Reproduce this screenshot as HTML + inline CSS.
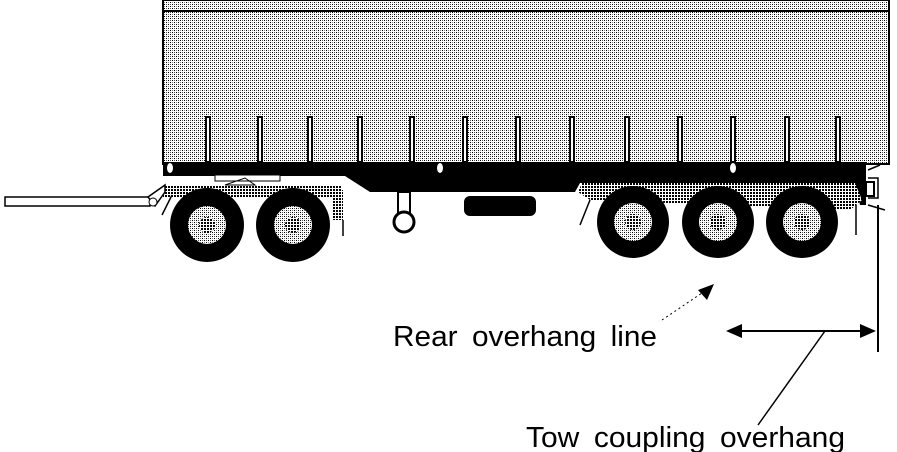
<!DOCTYPE html>
<html><head><style>body{margin:0;background:#fff}svg{display:block}</style></head><body>
<svg width="897" height="452" viewBox="0 0 897 452" xmlns="http://www.w3.org/2000/svg">
<defs>
<pattern id="dot" width="4" height="4" patternUnits="userSpaceOnUse"><rect width="4" height="4" fill="#fff"/><rect x="0" y="0" width="1" height="1" fill="#000"/><rect x="2" y="2" width="1" height="1" fill="#000"/><rect x="2" y="0" width="1" height="1" fill="#555"/><rect x="0" y="2" width="1" height="1" fill="#888"/></pattern>
<pattern id="hat" width="3" height="3" patternUnits="userSpaceOnUse"><rect width="3" height="3" fill="#fff"/><rect width="2" height="2" fill="#000"/></pattern>
</defs>
<rect x="163" y="0" width="726" height="164" fill="url(#dot)" stroke="#000" stroke-width="2"/>
<line x1="163" y1="11" x2="889" y2="11" stroke="#000" stroke-width="2"/>
<g stroke="#000" stroke-width="2" fill="#fff">
<rect x="206" y="117" width="4" height="45"/><rect x="258" y="117" width="4" height="45"/><rect x="308" y="117" width="4" height="45"/><rect x="358" y="117" width="4" height="45"/><rect x="410" y="117" width="4" height="45"/><rect x="463" y="117" width="4" height="45"/><rect x="516" y="117" width="4" height="45"/><rect x="570" y="117" width="4" height="45"/><rect x="625" y="117" width="4" height="45"/><rect x="678" y="117" width="4" height="45"/><rect x="731" y="117" width="4" height="45"/><rect x="785" y="117" width="4" height="45"/><rect x="836" y="117" width="4" height="45"/>
</g>
<polygon points="163,162 866,162 866,205 860,205 855,183 580,183 575,192 370,192 345,176 163,176" fill="#000"/>
<polygon points="582,183 855,183 862,200 850,210 590,200 578,192" fill="url(#hat)"/>
<g fill="#fff"><ellipse cx="170" cy="168" rx="3" ry="5"/><ellipse cx="440" cy="168" rx="3" ry="5"/><ellipse cx="733" cy="168" rx="3" ry="5"/></g>
<rect x="163" y="185" width="178" height="12" fill="url(#hat)"/>
<rect x="333" y="190" width="10" height="30" fill="url(#hat)"/>
<rect x="215" y="175" width="65" height="6" fill="#fff" stroke="#000"/>
<polygon points="225,185 245,178 255,185" fill="none" stroke="#000"/>
<rect x="5" y="197" width="145" height="9" fill="#fff" stroke="#000" stroke-width="1.5"/>
<polygon points="148,197 165,185 165,192 155,206" fill="#fff" stroke="#000" stroke-width="1.5"/>
<circle cx="153" cy="202" r="4" fill="#fff" stroke="#000"/>
<rect x="398" y="192" width="12" height="22" fill="#fff" stroke="#000" stroke-width="2"/>
<circle cx="404" cy="222" r="10" fill="#fff" stroke="#000" stroke-width="3"/>
<rect x="464" y="196" width="72" height="20" rx="6" fill="#000"/>
<g>
<circle cx="207" cy="225" r="37" fill="#000"/><circle cx="207" cy="225" r="19" fill="url(#dot)"/><circle cx="207" cy="225" r="8" fill="url(#hat)"/>
<circle cx="293" cy="225" r="37" fill="#000"/><circle cx="293" cy="225" r="19" fill="url(#dot)"/><circle cx="293" cy="225" r="8" fill="url(#hat)"/>
<circle cx="633" cy="222" r="36" fill="#000"/><circle cx="633" cy="222" r="19" fill="url(#dot)"/><circle cx="633" cy="222" r="8" fill="url(#hat)"/>
<circle cx="718" cy="222" r="36" fill="#000"/><circle cx="718" cy="222" r="19" fill="url(#dot)"/><circle cx="718" cy="222" r="8" fill="url(#hat)"/>
<circle cx="802" cy="222" r="36" fill="#000"/><circle cx="802" cy="222" r="19" fill="url(#dot)"/><circle cx="802" cy="222" r="8" fill="url(#hat)"/>
</g>
<g stroke="#000" stroke-width="1.5" fill="none">
<line x1="343" y1="220" x2="343" y2="236"/><line x1="856" y1="205" x2="856" y2="235"/>
<line x1="590" y1="200" x2="580" y2="225"/><line x1="172" y1="195" x2="162" y2="215"/>
<path d="M868,170 L880,165 M868,178 h10 v20 h-10 M868,205 L885,210"/>
</g>
<rect x="866" y="182" width="8" height="14" fill="#fff" stroke="#000" stroke-width="2"/>
<line x1="878" y1="205" x2="878" y2="352" stroke="#000" stroke-width="2"/>
<line x1="735" y1="331" x2="868" y2="331" stroke="#000" stroke-width="2"/>
<polygon points="726,331 742,324 742,338" fill="#000"/>
<polygon points="876,331 860,324 860,338" fill="#000"/>
<line x1="825" y1="331" x2="758" y2="425" stroke="#000" stroke-width="1.5"/>
<line x1="662" y1="320" x2="702" y2="293" stroke="#000" stroke-width="1" stroke-dasharray="2,3"/>
<polygon points="714,284 698,290 707,300" fill="#000"/>
<text x="393" y="346" font-family="Liberation Sans, sans-serif" font-size="29" fill="#000" word-spacing="6" textLength="264" lengthAdjust="spacingAndGlyphs">Rear overhang line</text>
<text x="526" y="447" font-family="Liberation Sans, sans-serif" font-size="29" fill="#000" word-spacing="6" textLength="319" lengthAdjust="spacingAndGlyphs">Tow coupling overhang</text>
</svg>
</body></html>
